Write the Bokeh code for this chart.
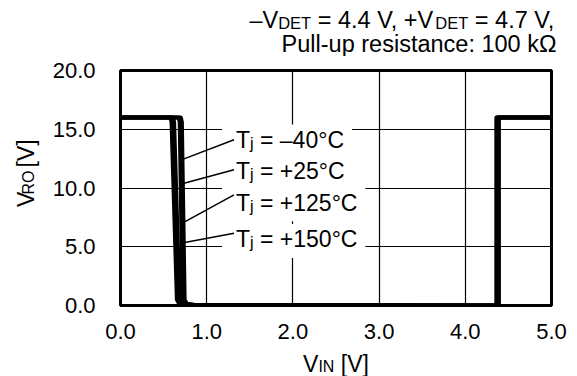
import numpy as np
from bokeh.plotting import figure
from bokeh.models import Range1d, Label, FixedTicker
from bokeh.layouts import column, row
from bokeh.embed import file_html
from bokeh.resources import INLINE

# ---------------- data ----------------
x_ticks = [0, 1, 2, 3, 4, 5]
x_tick_labels = ["0.0", "1.0", "2.0", "3.0", "4.0", "5.0"]
y_ticks = [0, 5, 10, 15, 20]
y_tick_labels = ["0.0", "5.0", "10.0", "15.0", "20.0"]

temps = ["\u201340", "+25", "+125", "+150"]
v_high = [16.0, 16.0, 16.0, 16.0]
fall_top_x = [0.58, 0.61, 0.675, 0.70]
fall_bottom_x = [0.66, 0.69, 0.725, 0.75]
rise_x = [4.36, 4.37, 4.38, 4.39]

label_x = [1.34, 1.34, 1.34, 1.34]
label_y = [13.54, 10.89, 8.19, 5.06]
leader_x0 = [0.729, 0.737, 0.749, 0.729]
leader_y0 = [12.46, 10.41, 7.14, 5.34]
leader_x1 = [1.317, 1.317, 1.317, 1.317]
leader_y1 = [14.11, 11.55, 9.42, 6.15]

# header / axis titles as (text, is_subscript) runs
header_line1 = [("\u2013V", False), ("DET", True), (" = 4.4 V, +V", False), ("DET", True),
                (" = 4.7 V,", False)]
header_line2 = [("Pull-up resistance: 100 k\u03a9", False)]
x_label = [("V", False), ("IN", True), (" [V]", False)]
y_label = [("V", False), ("RO", True), (" [V]", False)]

# ---------------- layout (page pixels) ----------------
W, H = 577, 376
HEAD_H = 56          # header strip height
XLAB_H = 30          # x-label strip height
YLAB_W = 40          # y-label strip width
MAIN_W = W - YLAB_W
MAIN_H = H - HEAD_H - XLAB_H
BL, BR, BT = 120 - YLAB_W, 26, 70 - HEAD_H
BB = MAIN_H - (305 - HEAD_H)
X0, X1, Y0, Y1 = 0, 5, 0, 20
PX_X = (MAIN_W - BL - BR) / (X1 - X0)
PX_Y = (MAIN_H - BT - BB) / (Y1 - Y0)
FONT = "Liberation Sans"
BASE_FIX = 0.29      # alphabetic-baseline correction, in em

ARIAL = {' ': 278, '\u2013': 556, 'V': 667, 'D': 722, 'E': 667, 'T': 611, '=': 584,
         '4': 556, '.': 278, '7': 556, ',': 278, '+': 584, 'j': 222, '2': 556,
         '5': 556, '1': 556, '0': 556, '\u00b0': 400, 'C': 722, 'I': 278, 'N': 722,
         'R': 722, 'O': 778, '[': 278, ']': 278, 'P': 667, 'u': 556, 'l': 222,
         '-': 333, 'p': 556, 'r': 333, 'e': 556, 's': 500, 'i': 222, 't': 278,
         'a': 556, 'n': 556, 'c': 500, ':': 278, 'k': 500, '\u03a9': 768}


def tw(s, size):
    return sum(ARIAL.get(c, 556) for c in s) / 1000.0 * size


def strip(width, height, x_range, y_range):
    f = figure(width=width, height=height, x_range=x_range, y_range=y_range, title=None,
               output_backend="svg", toolbar_location=None,
               x_axis_location=None, y_axis_location=None, min_border=0)
    f.outline_line_color = None
    f.background_fill_color = "white"
    f.border_fill_color = "white"
    f.xgrid.grid_line_color = None
    f.ygrid.grid_line_color = None
    return f


def place_runs(fig, x, y, runs, big, small, drop=1.0, angle=0.0):
    """Place text runs left to right (or bottom to top when rotated); page px, y downward."""
    for text, sub in runs:
        size = small if sub else big
        lead = len(text) - len(text.lstrip(" "))
        body = text.strip(" ")
        adv_lead = tw(" " * lead, size)
        fix = BASE_FIX * size
        if angle == 0.0:
            x += adv_lead
            fig.add_layout(Label(x=x, y=y + (drop if sub else 0) - fix, text=body,
                                 text_font=FONT, text_font_size=f"{size}px",
                                 text_color="black", text_align="left",
                                 text_baseline="alphabetic"))
            x += tw(body, size)
        else:
            y -= adv_lead + (3 if lead else 0)
            fig.add_layout(Label(x=x + (drop if sub else 0) - fix, y=y, text=body,
                                 text_font=FONT, text_font_size=f"{size}px",
                                 text_color="black", text_align="left",
                                 text_baseline="alphabetic", angle=angle))
            y -= tw(body, size)


def runs_width(runs, big, small):
    return sum(tw(t, small if s else big) for t, s in runs)


# ---- header strip (coordinates = page pixels, y downward) ----
head = strip(W, HEAD_H, Range1d(0, W), Range1d(HEAD_H, 0))
HB, HS, RIGHT = 23.5, 16.5, 556
place_runs(head, RIGHT - runs_width(header_line1, HB, HS), 26.7, header_line1, HB, HS)
head.add_layout(Label(x=RIGHT, y=50.0 - BASE_FIX * HB, text=header_line2[0][0], text_font=FONT,
                      text_font_size=f"{HB}px", text_color="black",
                      text_align="right", text_baseline="alphabetic"))

# ---- y-label strip (page pixels) ----
ylab = strip(YLAB_W, MAIN_H, Range1d(0, YLAB_W), Range1d(HEAD_H + MAIN_H, HEAD_H))
AB, AS = 23, 16
place_runs(ylab, 32, 187.5 + runs_width(y_label, AB, AS) / 2, y_label, AB, AS,
           angle=np.pi / 2)

# ---- x-label strip (page pixels) ----
xlab = strip(W, XLAB_H, Range1d(0, W), Range1d(H, H - XLAB_H))
place_runs(xlab, 335.5 - runs_width(x_label, AB, AS) / 2, 370, x_label, AB, AS)

# ---- main plot ----
p = figure(width=MAIN_W, height=MAIN_H, x_range=Range1d(X0, X1), y_range=Range1d(Y0, Y1),
           output_backend="svg", toolbar_location=None, title=None,
           min_border_left=BL, min_border_right=BR, min_border_top=BT, min_border_bottom=BB)
p.background_fill_color = "white"
p.border_fill_color = "white"
p.outline_line_color = "black"
p.outline_line_width = 3
p.outline_line_alpha = 1.0

for ax, ticks, labs, standoff in ((p.xaxis[0], x_ticks, x_tick_labels, 12),
                                  (p.yaxis[0], y_ticks, y_tick_labels, 19)):
    ax.ticker = FixedTicker(ticks=ticks)
    ax.major_label_overrides = {t: l for t, l in zip(ticks, labs)}
    ax.axis_line_color = None
    ax.major_tick_line_color = None
    ax.minor_tick_line_color = None
    ax.major_label_text_font = FONT
    ax.major_label_text_font_size = "22px"
    ax.major_label_text_color = "black"
    ax.major_label_standoff = standoff

p.xgrid.ticker = FixedTicker(ticks=x_ticks[1:-1])
p.ygrid.ticker = FixedTicker(ticks=y_ticks[1:-1])
for g in (p.xgrid[0], p.ygrid[0]):
    g.grid_line_color = "black"
    g.grid_line_width = 1.2
    g.grid_line_alpha = 1.0

# temperature labels: "T" + subscript "j" + " = ..."
TB, TS = 23, 16
lab_runs = [[("T", False), ("j", True), (f" = {t}\u00b0C", False)] for t in temps]
box_l, box_r, box_t, box_b = [], [], [], []
for lx, ly, runs in zip(label_x, label_y, lab_runs):
    wpx = runs_width(runs, TB, TS)
    box_l.append(lx - 14 / PX_X)
    box_r.append(lx + (wpx + 8) / PX_X)
    box_t.append(ly + 22 / PX_Y)
    box_b.append(ly - 12 / PX_Y)
p.quad(left=box_l, right=box_r, top=box_t, bottom=box_b, fill_color="white", line_color=None)

# curves
for tx, bx, rx, vh in zip(fall_top_x, fall_bottom_x, rise_x, v_high):
    xs = [0.0, tx, tx + 0.012, bx - 0.006, bx + 0.02, bx + 0.12, 1.0, rx, rx, 5.0]
    ys = [vh, vh, vh - 0.4, 0.5, 0.15, 0.05, 0.02, 0.0, vh, vh]
    p.line(xs, ys, line_color="black", line_width=4, line_join="round")

# leaders
p.segment(x0=leader_x0, y0=leader_y0, x1=leader_x1, y1=leader_y1,
          line_color="black", line_width=1.5)

for lx, ly, runs in zip(label_x, label_y, lab_runs):
    x = lx
    for text, sub in runs:
        size = TS if sub else TB
        lead = len(text) - len(text.lstrip(" "))
        body = text.strip(" ")
        x += tw(" " * lead, size) / PX_X
        dy = (BASE_FIX * size - (1.5 if sub else 0)) / PX_Y
        p.add_layout(Label(x=x, y=ly + dy, text=body, text_font=FONT,
                           text_font_size=f"{size}px", text_color="black",
                           text_align="left", text_baseline="alphabetic"))
        x += tw(body, size) / PX_X

layout = column(head, row(ylab, p), xlab)
open("out.html", "w").write(file_html(layout, INLINE))
